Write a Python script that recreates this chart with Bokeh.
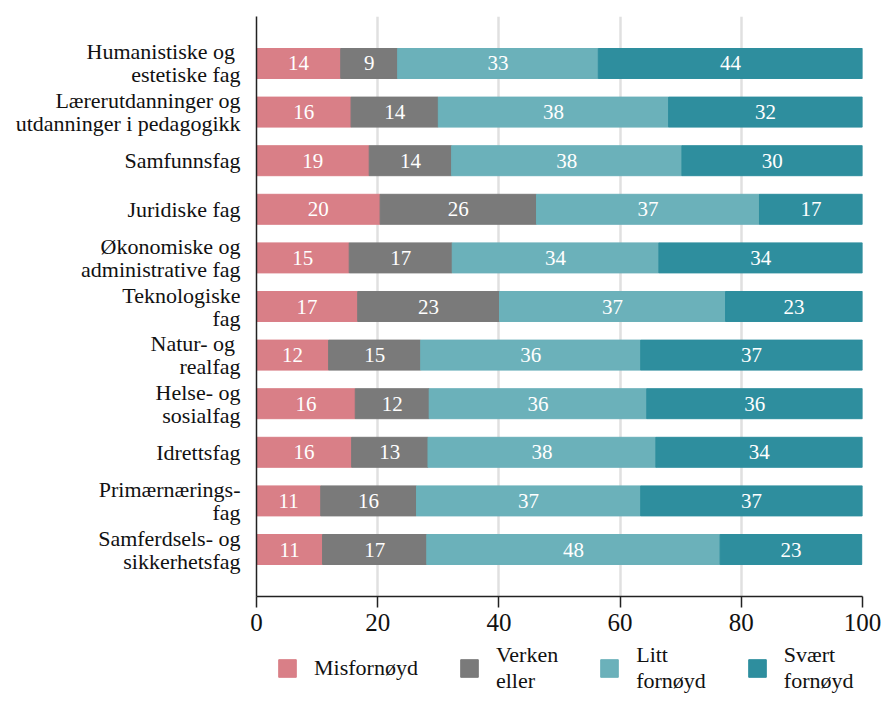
from bokeh.plotting import figure
from bokeh.layouts import column
from bokeh.models import ColumnDataSource, FixedTicker, Range1d, Legend, LegendItem
from bokeh.core.properties import value
from bokeh.embed import file_html
from bokeh.resources import INLINE

categories = ["Humanistiske og \nestetiske fag", "Lærerutdanninger og\nutdanninger i pedagogikk", "Samfunnsfag",
              "Juridiske fag", "Økonomiske og\nadministrative fag", "Teknologiske\nfag", "Natur- og \nrealfag",
              "Helse- og\nsosialfag", "Idrettsfag", "Primærnærings-\nfag", "Samferdsels- og\nsikkerhetsfag"]
misfornoyd = [13.9, 15.6, 18.6, 20.4, 15.3, 16.7, 11.9, 16.3, 15.7, 10.6, 10.9]
verken = [9.4, 14.4, 13.6, 25.8, 17.0, 23.4, 15.2, 12.2, 12.6, 15.8, 17.2]
litt = [33.1, 38.0, 38.0, 36.8, 34.1, 37.3, 36.3, 35.9, 37.6, 37.0, 48.4]
svaert = [43.6, 32.0, 29.8, 17.0, 33.6, 22.6, 36.6, 35.6, 34.1, 36.6, 23.4]
series_names = ["Misfornøyd", "Verken\neller", "Litt\nfornøyd", "Svært\nfornøyd"]
colors = ["#d97f87", "#7a7a7a", "#6bb1ba", "#2e8e9e"]
x_ticks = [0, 20, 40, 60, 80, 100]

FONT = "Liberation Serif"
n = len(categories)
ypos = [n - 1 - i for i in range(n)]
keys = ["s0", "s1", "s2", "s3"]
series = [misfornoyd, verken, litt, svaert]
src = ColumnDataSource(dict(y=ypos, s0=misfornoyd, s1=verken, s2=litt, s3=svaert))

p = figure(width=887, height=646, min_border_left=256, min_border_top=16,
           min_border_right=25, min_border_bottom=50,
           x_range=Range1d(0, 100), y_range=Range1d(-0.967, n - 1 + 0.967),
           output_backend="svg", toolbar_location=None)
p.outline_line_color = None
p.background_fill_color = "white"

renderers = p.hbar_stack(keys, y="y", height=0.617, color=colors, source=src)

# bar labels
lx, ly, lt = [], [], []
for i in range(n):
    cum = 0.0
    for s in series:
        v = s[i]
        lx.append(cum + v / 2)
        ly.append(ypos[i])
        lt.append(str(round(v)))
        cum += v
p.text(x=lx, y=ly, text=lt, text_color="white", text_font=value(FONT), text_font_size="21px",
       text_align="center", text_baseline="middle")

# axes
xa = p.xaxis[0]
xa.ticker = FixedTicker(ticks=x_ticks)
xa.minor_tick_line_color = None
xa.major_tick_out = 11
xa.major_tick_in = 0
xa.major_tick_line_width = 1.5
xa.axis_line_width = 1.5
xa.axis_line_color = "#222222"
xa.major_tick_line_color = "#222222"
xa.major_label_text_font = FONT
xa.major_label_text_font_size = "25px"
xa.major_label_text_color = "#111111"
xa.major_label_standoff = 6

ya = p.yaxis[0]
ya.ticker = FixedTicker(ticks=ypos)
ya.major_label_overrides = {int(ypos[i]): categories[i] for i in range(n)}
ya.major_tick_line_color = None
ya.minor_tick_line_color = None
ya.axis_line_width = 1.5
ya.axis_line_color = "#222222"
ya.major_label_text_font = FONT
ya.major_label_text_font_size = "22px"
ya.major_label_text_color = "#111111"
ya.major_label_text_line_height = 0.92
ya.major_label_standoff = 10

p.xgrid.ticker = FixedTicker(ticks=x_ticks[1:])
p.xgrid.grid_line_color = "#e0e0e0"
p.xgrid.grid_line_width = 2.5
p.ygrid.grid_line_color = None

# legend strip below the chart (frame aligned with the chart's frame)
q = figure(width=887, height=48, min_border=0, x_range=Range1d(0, 1), y_range=Range1d(0, 1),
           output_backend="svg", toolbar_location=None)
q.axis.visible = False
q.grid.visible = False
q.outline_line_color = None
# legend proxies: one bar each, lying outside the visible range
proxies = [q.hbar(y=[-5], left=[0], right=[series[k][0]], height=0.5, color=colors[k]) for k in range(4)]
items = [LegendItem(label=series_names[k], renderers=[proxies[k]]) for k in range(4)]
legend = Legend(items=items, orientation="horizontal", location=(20, 0),
                glyph_width=22, glyph_height=22, label_standoff=16, spacing=40,
                padding=0, margin=0, border_line_color=None, background_fill_alpha=0,
                label_text_font=FONT, label_text_font_size="22px", label_text_color="#111111",
                label_text_line_height=0.95)
q.add_layout(legend, "center")

open("out.html", "w").write(file_html(column(p, q, spacing=0), INLINE))
